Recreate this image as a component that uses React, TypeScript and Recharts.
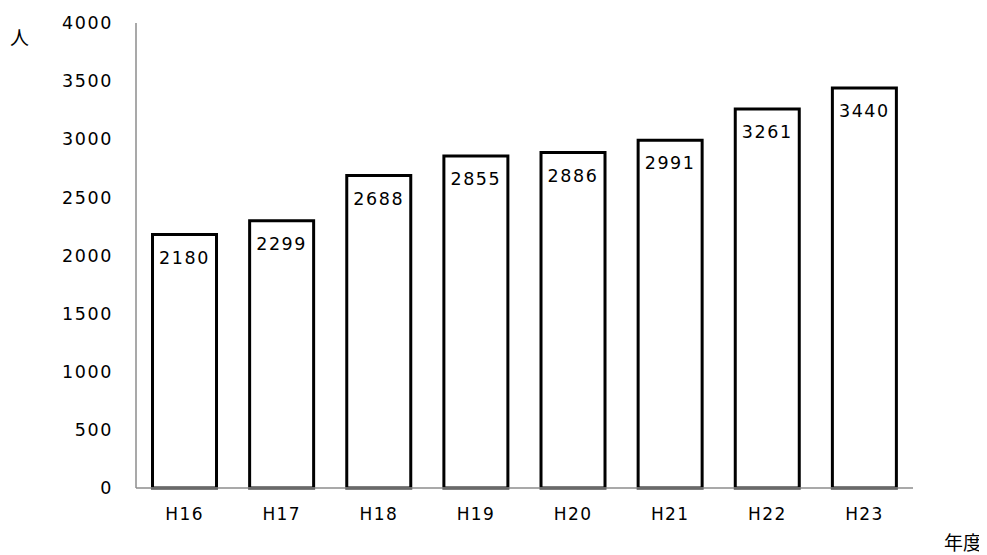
import React from "react";
import { BarChart, Bar, XAxis, YAxis, LabelList } from "recharts";

const categories = ["H16", "H17", "H18", "H19", "H20", "H21", "H22", "H23"];
const values = [2180, 2299, 2688, 2855, 2886, 2991, 3261, 3440];
const yTicks = [0, 500, 1000, 1500, 2000, 2500, 3000, 3500, 4000];

const data = categories.map((c, i) => ({ name: c, value: values[i] }));

const FONT = "'DejaVu Sans', sans-serif";

const BarLabel = (props: any) => {
  const { x, y, width, value } = props;
  return (
    <text
      x={x + width / 2}
      y={y + 23}
      textAnchor="middle"
      dominantBaseline="central"
      fontFamily={FONT}
      fontSize={17.5}
      letterSpacing={1.6}
      fill="#000"
    >
      {value}
    </text>
  );
};

export default function App() {
  return (
    <div style={{ position: "relative", width: 979, height: 547 }}>
      <BarChart
        width={979}
        height={547}
        data={data}
        margin={{ top: 15, right: 74, bottom: 27, left: 68 }}
        barCategoryGap="17%"
      >
        <XAxis
          dataKey="name"
          height={40}
          axisLine={{ stroke: "#8c8c8c", strokeWidth: 1.5 }}
          tickLine={false}
          tickMargin={14}
          tick={{ fill: "#000", fontFamily: FONT, fontSize: 17, letterSpacing: 1.4 }}
        />
        <YAxis
          width={60}
          domain={[0, 4000]}
          ticks={yTicks}
          interval={0}
          axisLine={{ stroke: "#8c8c8c", strokeWidth: 1.5 }}
          tickLine={false}
          tickMargin={17}
          tick={{ fill: "#000", fontFamily: FONT, fontSize: 17.5, letterSpacing: 1.6 }}
        />
        <Bar
          dataKey="value"
          fill="#fff"
          stroke="#000"
          strokeWidth={3}
          isAnimationActive={false}
        >
          <LabelList dataKey="value" content={BarLabel} />
        </Bar>
      </BarChart>
      <div
        style={{
          position: "absolute",
          left: 2,
          top: 17,
          fontFamily: "'Noto Sans CJK JP', sans-serif",
          fontSize: 19,
          lineHeight: "24px",
          color: "#000",
        }}
      >
        人
      </div>
      <div
        style={{
          position: "absolute",
          left: 936,
          top: 522,
          fontFamily: "'Noto Sans CJK JP', sans-serif",
          fontSize: 19,
          lineHeight: "24px",
          color: "#000",
        }}
      >
        年度
      </div>
    </div>
  );
}
